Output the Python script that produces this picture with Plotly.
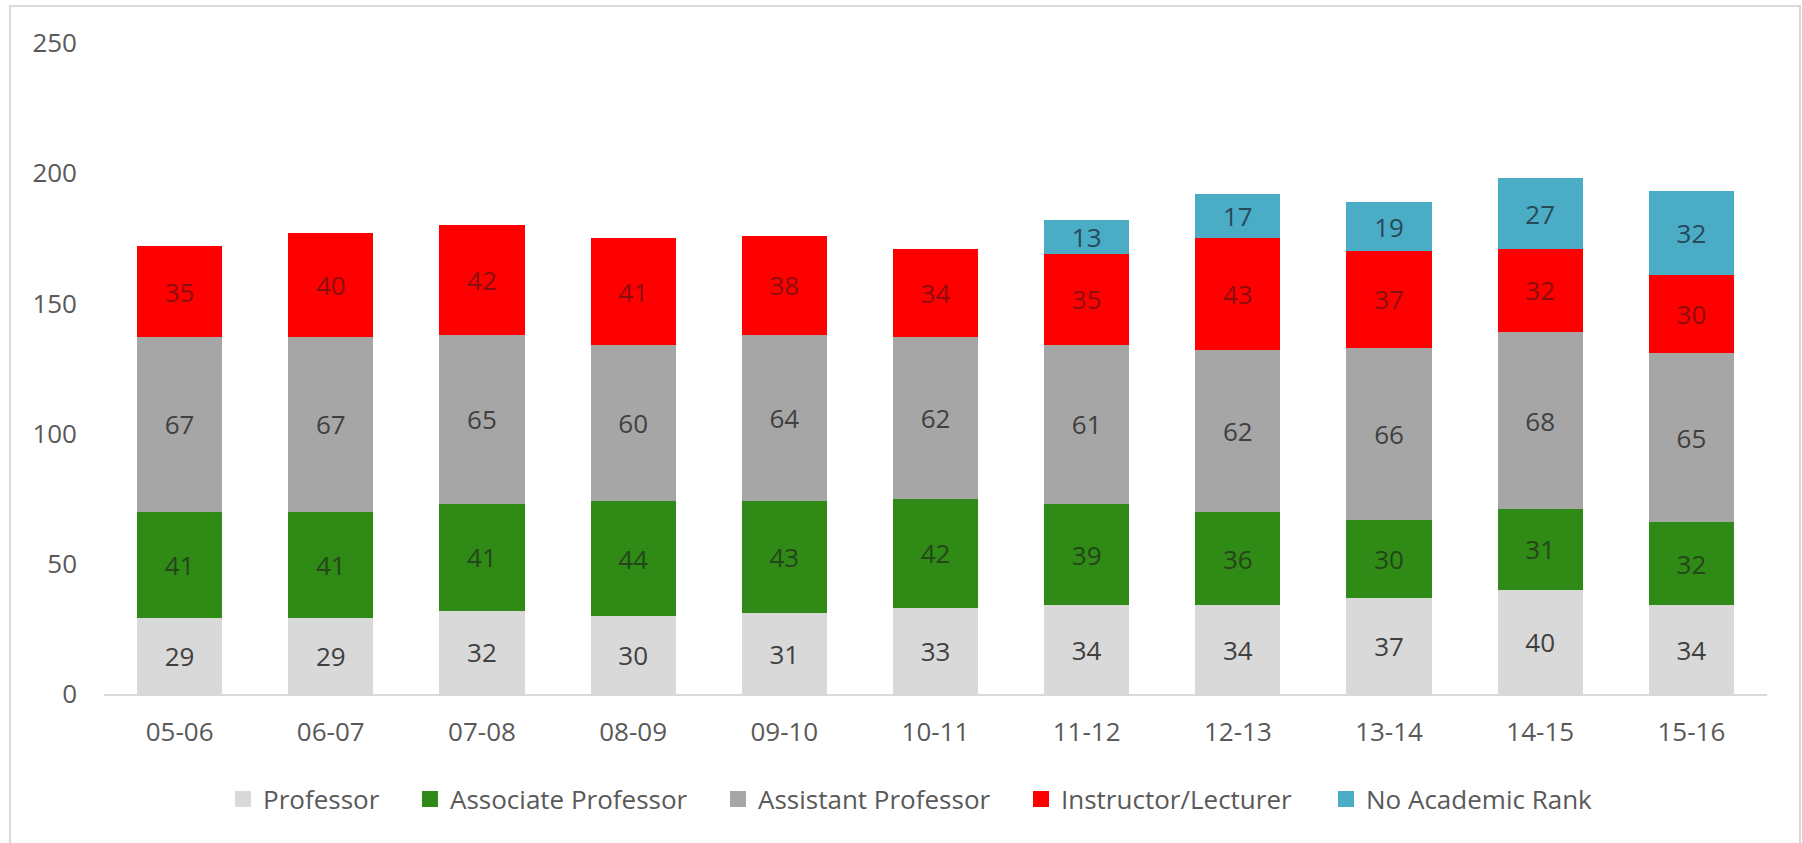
import plotly.graph_objects as go

# academic years on the x axis
years = ["05-06", "06-07", "07-08", "08-09", "09-10", "10-11",
         "11-12", "12-13", "13-14", "14-15", "15-16"]

professor = [29, 29, 32, 30, 31, 33, 34, 34, 37, 40, 34]
associate = [41, 41, 41, 44, 43, 42, 39, 36, 30, 31, 32]
assistant = [67, 67, 65, 60, 64, 62, 61, 62, 66, 68, 65]
instructor = [35, 40, 42, 41, 38, 34, 35, 43, 37, 32, 30]
no_rank = [None, None, None, None, None, None, 13, 17, 19, 27, 32]

series = [
    ("Professor", professor, "#D9D9D9", "#404040"),
    ("Associate Professor", associate, "#2F8A16", "#24461A"),
    ("Assistant Professor", assistant, "#A6A6A6", "#404040"),
    ("Instructor/Lecturer", instructor, "#FF0000", "#8A0E0E"),
    ("No Academic Rank", no_rank, "#4BACC6", "#27495A"),
]

FONT = "Open Sans, sans-serif"
W, H = 1802, 843
L, R, T, B = 104, 35, 43, 149
pw, ph = W - L - R, H - T - B

def px_x(x):
    return (x - L) / pw

def px_y(y):
    return (H - B - y) / ph

fig = go.Figure()
legend_x = [238, 425, 733, 1036, 1341]   # left edge of each legend square
legend_ids = ["legend", "legend2", "legend3", "legend4", "legend5"]

for i, (name, vals, col, tcol) in enumerate(series):
    fig.add_trace(go.Bar(
        x=years, y=vals, name=name,
        marker=dict(color=col, line=dict(width=0)),
        text=[v if v is not None else "" for v in vals],
        textposition="inside", insidetextanchor="middle", textangle=0,
        constraintext="none",
        textfont=dict(family=FONT, size=26, color=tcol),
        showlegend=False, hoverinfo="x+y+name",
    ))
    # bigger square swatch for the legend
    fig.add_trace(go.Scatter(
        x=[None], y=[None], mode="markers", name=name,
        marker=dict(symbol="square", size=16, color=col),
        legend=legend_ids[i], showlegend=True,
    ))

layout_legends = {}
for i, lid in enumerate(legend_ids):
    layout_legends[lid] = dict(
        orientation="h", x=px_x(legend_x[i] - 15), xanchor="left",
        y=px_y(799), yanchor="middle",
        font=dict(family=FONT, size=26, color="#595959"),
        bgcolor="rgba(0,0,0,0)", itemclick=False,
    )

fig.update_layout(
    width=W, height=H,
    margin=dict(l=L, r=R, t=T, b=B),
    barmode="stack", bargap=0.437, showlegend=True,
    plot_bgcolor="white", paper_bgcolor="white",
    font=dict(family=FONT, size=26, color="#595959"),
    xaxis=dict(type="category", showline=True, linecolor="#D9D9D9",
               linewidth=2, showgrid=False, ticks="", ticklabelstandoff=14,
               tickfont=dict(size=26, color="#595959")),
    yaxis=dict(range=[0, 250], dtick=50, showgrid=False, zeroline=False,
               showline=False, ticks="", ticklabelstandoff=26,
               tickfont=dict(size=26, color="#595959")),
    shapes=[dict(type="rect", xref="paper", yref="paper",
                 x0=px_x(10), x1=px_x(1800), y0=px_y(860), y1=px_y(6),
                 line=dict(color="#D9D9D9", width=2), layer="below")],
    **layout_legends,
)

fig.write_html("out.html", config={"displayModeBar": False},
               post_script="document.body.style.margin='0';")
